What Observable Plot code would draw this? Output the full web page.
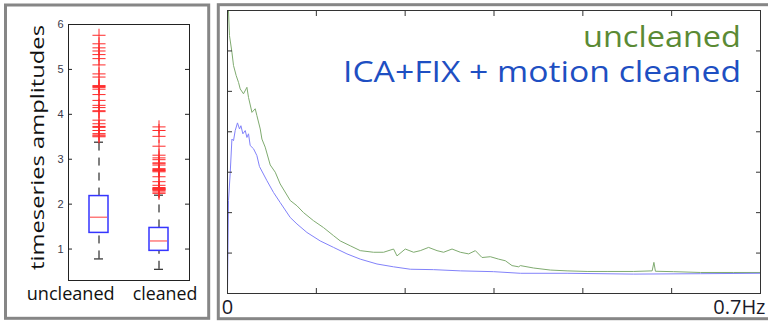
<!DOCTYPE html>
<html>
<head>
<meta charset="utf-8">
<script src="https://cdn.jsdelivr.net/npm/d3@7"></script>
<script src="https://cdn.jsdelivr.net/npm/@observablehq/plot@0.6"></script>
<style>
html, body { margin: 0; padding: 0; background: #fff; }
#wrap { position: relative; width: 768px; height: 324px; overflow: hidden; background: #fff; }
#wrap > svg { position: absolute; top: 0; }
#overlay { left: 0; pointer-events: none; }
</style>
</head>
<body>
<div id="wrap"></div>
<script>
// ---------- left panel: box plot ----------
const categories = ["uncleaned", "cleaned"];
const boxQ1 = [1.36, 0.96];
const boxMedian = [1.71, 1.18];
const boxQ3 = [2.18, 1.47];
const whiskerLow = [0.78, 0.55];
const whiskerHigh = [3.38, 2.20];
const outliersUncleaned = [5.76, 5.57, 5.48, 5.41, 5.33, 5.24, 5.10, 4.90, 4.83, 4.64, 4.62, 4.60, 4.56, 4.44, 4.31, 4.20, 4.15, 4.08, 4.06, 3.87, 3.79, 3.73, 3.71, 3.64, 3.57, 3.54, 3.52, 3.50];
const outliersCleaned = [3.72, 3.64, 3.51, 3.29, 3.09, 3.03, 2.99, 2.92, 2.90, 2.87, 2.79, 2.77, 2.75, 2.74, 2.72, 2.61, 2.50, 2.42, 2.37, 2.35, 2.34, 2.33, 2.32, 2.30, 2.27, 2.24];
const amplitudeTicks = [1, 2, 3, 4, 5, 6];
const amplitudeLabel = "timeseries amplitudes";

// ---------- right panel: power spectra ----------
const freqUncleaned = [0, 0.0013, 0.0026, 0.0058, 0.0079, 0.0114, 0.0145, 0.0167, 0.0210, 0.0255, 0.0276, 0.0321, 0.0364, 0.0386, 0.0430, 0.0452, 0.0495, 0.0561, 0.0627, 0.0692, 0.0824, 0.0912, 0.0999, 0.1130, 0.1261, 0.1393, 0.1481, 0.1612, 0.1744, 0.1918, 0.2050, 0.2181, 0.2226, 0.2335, 0.2444, 0.2532, 0.2641, 0.2752, 0.2838, 0.2949, 0.3058, 0.3167, 0.3255, 0.3343, 0.3452, 0.3561, 0.3649, 0.3737, 0.3824, 0.3846, 0.4021, 0.4240, 0.4460, 0.4723, 0.4985, 0.5335, 0.5577, 0.5600, 0.5620, 0.5860, 0.6211, 0.6649, 0.7];
const powerUncleaned = [7.6, 7.0, 6.38, 5.97, 5.64, 5.39, 5.22, 5.06, 4.94, 5.10, 4.85, 4.48, 4.57, 4.40, 4.07, 3.82, 3.62, 3.18, 3.00, 2.71, 2.30, 2.17, 2.00, 1.80, 1.63, 1.43, 1.30, 1.18, 1.06, 1.02, 1.02, 1.10, 0.93, 1.10, 1.02, 1.06, 1.14, 1.06, 1.02, 1.10, 1.02, 0.98, 1.06, 0.89, 0.91, 0.85, 0.81, 0.69, 0.66, 0.69, 0.63, 0.58, 0.56, 0.545, 0.545, 0.545, 0.56, 0.77, 0.55, 0.54, 0.52, 0.52, 0.52];
const freqCleaned = [0, 0.0013, 0.0035, 0.0058, 0.0079, 0.0101, 0.0131, 0.0158, 0.0176, 0.0202, 0.0233, 0.0255, 0.0276, 0.0298, 0.0342, 0.0386, 0.0420, 0.0518, 0.0604, 0.0692, 0.0824, 0.0912, 0.1043, 0.1218, 0.1393, 0.1569, 0.1744, 0.1963, 0.2181, 0.2401, 0.2707, 0.3058, 0.3495, 0.3846, 0.4460, 0.5335, 0.6211, 0.7];
const powerCleaned = [0.05, 2.30, 2.96, 3.82, 3.78, 4.03, 4.22, 4.07, 4.15, 3.95, 4.03, 3.86, 3.95, 3.66, 3.58, 3.41, 3.14, 2.79, 2.50, 2.25, 1.88, 1.72, 1.51, 1.30, 1.14, 0.98, 0.85, 0.73, 0.66, 0.60, 0.59, 0.56, 0.54, 0.50, 0.50, 0.48, 0.49, 0.50];
const freqTicks = [0.1167, 0.2333, 0.35, 0.4667, 0.5833];
const powerTicks = [1, 2, 3, 4, 5, 6];
const freqTickValues = [0, 0.7];
const freqTickLabels = ["0", "0.7Hz"];
const seriesLabels = ["uncleaned", "ICA+FIX + motion cleaned"];

const wrap = document.getElementById("wrap");

// left chart
const boxes = categories.map((c, i) => ({c, q1: boxQ1[i], med: boxMedian[i], q3: boxQ3[i], lo: whiskerLow[i], hi: whiskerHigh[i]}));
const outliers = [
  ...outliersUncleaned.map(v => ({c: categories[0], v})),
  ...outliersCleaned.map(v => ({c: categories[1], v}))
];
const left = Plot.plot({
  width: 214, height: 324,
  marginLeft: 68, marginRight: 25, marginTop: 24, marginBottom: 44,
  x: {type: "band", domain: categories, paddingInner: 0.685, paddingOuter: 0.3425, axis: null},
  y: {domain: [0.3, 6], axis: null},
  style: {fontFamily: "'Liberation Sans', Arial, sans-serif", fontSize: "11px", color: "#3a3a4a", background: "transparent", overflow: "visible"},
  marks: [
    Plot.ruleX(boxes, {x: "c", y1: "q3", y2: "hi", stroke: "#000", strokeDasharray: "8,7"}),
    Plot.ruleX(boxes, {x: "c", y1: "lo", y2: "q1", stroke: "#000", strokeDasharray: "8,7"}),
    Plot.tickY(boxes, {x: "c", y: "hi", stroke: "#000", insetLeft: 5, insetRight: 5}),
    Plot.tickY(boxes, {x: "c", y: "lo", stroke: "#000", insetLeft: 5, insetRight: 5}),
    Plot.barY(boxes, {x: "c", y1: "q1", y2: "q3", fill: "none", stroke: "#3535ff", strokeWidth: 1.5}),
    Plot.tickY(boxes, {x: "c", y: "med", stroke: "#ff3b3b", insetLeft: 1, insetRight: 1}),
    Plot.dot(outliers, {x: "c", y: "v", symbol: "plus", r: 4.3, stroke: "#ff2a2a", strokeWidth: 1}),
    Plot.frame({stroke: "#222"}),
    Plot.axisY({anchor: "left", label: null, ticks: amplitudeTicks, tickSize: -4, tickPadding: 9, tickFormat: d3.format("d"), stroke: "#222"}),
    Plot.axisY({anchor: "right", label: null, ticks: amplitudeTicks, tickSize: -5, tickFormat: () => "", stroke: "#222"})
  ]
});
left.style.left = "0px";
wrap.appendChild(left);

// right chart
const uncleanedData = freqUncleaned.map((f, i) => ({f, p: powerUncleaned[i]}));
const cleanedData = freqCleaned.map((f, i) => ({f, p: powerCleaned[i]}));
const right = Plot.plot({
  width: 554, height: 324,
  marginLeft: 13, marginRight: 8, marginTop: 10, marginBottom: 31,
  x: {domain: [0, 0.7], axis: null},
  y: {domain: [0, 7], axis: null},
  style: {fontFamily: "'Open Sans', sans-serif", fontSize: "20px", color: "#1a1a2a", background: "transparent", overflow: "visible"},
  marks: [
    Plot.line(uncleanedData, {x: "f", y: "p", stroke: "#7fab70", strokeWidth: 1, clip: true}),
    Plot.line(cleanedData, {x: "f", y: "p", stroke: "#8282fa", strokeWidth: 1, clip: true}),
    Plot.frame({stroke: "#333"}),
    Plot.axisY({anchor: "left", label: null, ticks: powerTicks, tickSize: -5, tickFormat: () => "", stroke: "#333"}),
    Plot.axisY({anchor: "right", label: null, ticks: powerTicks, tickSize: -5, tickFormat: () => "", stroke: "#333"}),
    Plot.axisX({anchor: "top", label: null, ticks: freqTicks, tickSize: -5, tickFormat: () => "", stroke: "#333"}),
    Plot.axisX({anchor: "bottom", label: null, ticks: freqTicks, tickSize: -5, tickFormat: () => "", stroke: "#333"}),
    Plot.text([0], {x: (d) => freqTickValues[0], frameAnchor: "bottom", text: () => freqTickLabels[0], lineAnchor: "top", dy: 6, textAnchor: "middle", fill: "#1a1a2a", fontSize: 20}),
    Plot.text([0], {x: (d) => freqTickValues[1], frameAnchor: "bottom", text: () => freqTickLabels[1], lineAnchor: "top", dy: 6, dx: 5, textAnchor: "end", fill: "#1a1a2a", fontSize: 20})
  ]
});
right.style.left = "214px";
wrap.appendChild(right);

// overlay: panel frames and free text
const ov = d3.select(wrap).append("svg").attr("id", "overlay").attr("width", 768).attr("height", 324);
ov.append("rect").attr("x", 5.5).attr("y", 5).attr("width", 203.2).attr("height", 313.3)
  .attr("fill", "none").attr("stroke", "#868686").attr("stroke-width", 3);
ov.append("rect").attr("x", 218.3).attr("y", 4.7).attr("width", 560).attr("height", 314)
  .attr("fill", "none").attr("stroke", "#868686").attr("stroke-width", 3);

const font = "'Open Sans', sans-serif";
ov.append("text").text(amplitudeLabel)
  .attr("transform", "translate(44,147.5) rotate(-90)")
  .attr("text-anchor", "middle").attr("font-family", font).attr("font-size", 19)
  .attr("textLength", 245).attr("lengthAdjust", "spacingAndGlyphs").attr("fill", "#111");
ov.append("text").text(categories[0]).attr("x", 26.7).attr("y", 300)
  .attr("font-family", font).attr("font-size", 19)
  .attr("textLength", 88).attr("lengthAdjust", "spacingAndGlyphs").attr("fill", "#111");
ov.append("text").text(categories[1]).attr("x", 132.7).attr("y", 300)
  .attr("font-family", font).attr("font-size", 19)
  .attr("textLength", 64.6).attr("lengthAdjust", "spacingAndGlyphs").attr("fill", "#111");
ov.append("text").text(seriesLabels[0]).attr("x", 583).attr("y", 47)
  .attr("font-family", font).attr("font-size", 29)
  .attr("textLength", 158).attr("lengthAdjust", "spacingAndGlyphs").attr("fill", "#5b8a34");
ov.append("text").text(seriesLabels[1]).attr("x", 343).attr("y", 82)
  .attr("font-family", font).attr("font-size", 29)
  .attr("textLength", 398).attr("lengthAdjust", "spacingAndGlyphs").attr("fill", "#1e4fc2");
</script>
</body>
</html>
